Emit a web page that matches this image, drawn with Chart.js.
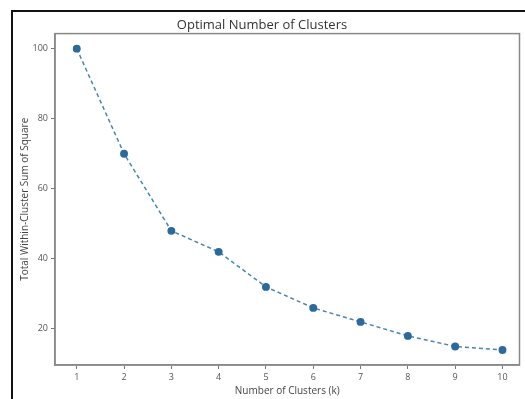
<!DOCTYPE html>
<html>
<head>
  <title>Optimal Number of Clusters</title>
  <script src="https://cdn.jsdelivr.net/npm/chart.js"></script>
  <style>
    body { margin: 0; background: #fff; }
    #wrap { position: relative; width: 525px; height: 399px; }
    #frame { position: absolute; left: 11px; top: 10px; right: 0; bottom: 0;
             border-top: 2px solid #111; border-left: 2px solid #111; pointer-events: none; }
  </style>
</head>
<body>
  <div id="wrap">
    <canvas id="chartElbow" width="525" height="399"></canvas>
    <div id="frame"></div>
  </div>

  <script>
    const clusters = [1, 2, 3, 4, 5, 6, 7, 8, 9, 10];
    const wcss = [100, 70, 48, 42, 32, 26, 22, 18, 15, 14];
    const yTicks = [20, 40, 60, 80, 100];

    const points = clusters.map((k, i) => ({ x: k, y: wcss[i] }));
    const fontFamily = "'Open Sans', 'DejaVu Sans', sans-serif";

    const ctx = document.getElementById('chartElbow').getContext('2d');
    new Chart(ctx, {
      type: 'scatter',
      data: {
        datasets: [{
          data: points,
          showLine: true,
          borderColor: '#4a84b2',
          borderWidth: 1.5,
          borderDash: [4, 3],
          pointBackgroundColor: '#2b6a9c',
          pointBorderColor: '#2b6a9c',
          pointRadius: 3.2
        }]
      },
      options: {
        responsive: false,
        animation: false,
        layout: { padding: { left: 0, right: 1, top: 0, bottom: 0 } },
        plugins: {
          legend: { display: false },
          tooltip: { enabled: false },
          title: {
            display: true,
            text: 'Optimal Number of Clusters',
            color: '#333',
            font: { family: fontFamily, size: 13, weight: 'normal' },
            padding: { top: 17, bottom: 1 }
          }
        },
        scales: {
          x: {
            type: 'linear',
            min: 0.54,
            max: 10.36,
            afterBuildTicks: s => { s.ticks = clusters.map(v => ({ value: v })); },
            afterFit: s => { s.height = 34; },
            grid: { display: true, drawOnChartArea: false, drawTicks: true, tickLength: 4, tickColor: '#777' },
            border: { display: true, color: '#888', width: 1.5 },
            ticks: { color: '#555', font: { family: fontFamily, size: 9 }, padding: 3, maxRotation: 0 },
            title: {
              display: true,
              text: 'Number of Clusters (k)',
              color: '#444',
              font: { family: fontFamily, size: 10 },
              padding: { top: 0, bottom: 2 }
            }
          },
          y: {
            type: 'linear',
            min: 9.7,
            max: 104.3,
            afterBuildTicks: s => { s.ticks = yTicks.map(v => ({ value: v })); },
            afterFit: s => { s.width = 55; },
            grid: { display: true, drawOnChartArea: false, drawTicks: true, tickLength: 4, tickColor: '#777' },
            border: { display: true, color: '#888', width: 1.5 },
            ticks: { color: '#555', font: { family: fontFamily, size: 9 }, padding: 3 },
            title: {
              display: true,
              text: 'Total Within-Cluster Sum of Square',
              color: '#444',
              font: { family: fontFamily, size: 10 },
              padding: { top: 19, bottom: 0 }
            }
          }
        }
      },
      plugins: [{
        id: 'boxBorder',
        afterDraw(chart) {
          const a = chart.chartArea, c = chart.ctx;
          c.save();
          c.strokeStyle = '#888';
          c.lineWidth = 1.5;
          c.strokeRect(a.left, a.top, a.right - a.left, a.bottom - a.top);
          c.restore();
        }
      }]
    });
  </script>
</body>
</html>
